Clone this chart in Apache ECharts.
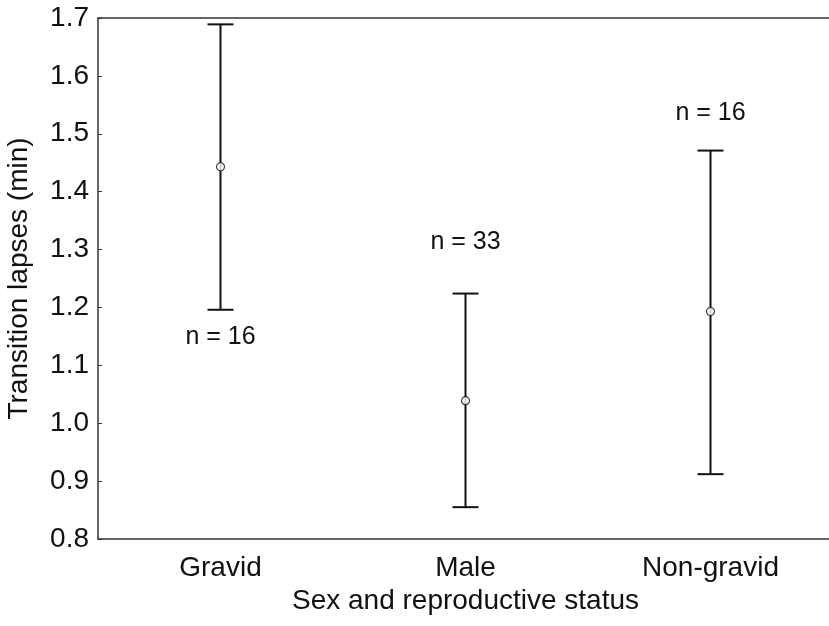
<!DOCTYPE html>
<html>
<head>
<meta charset="utf-8">
<script src="https://cdn.jsdelivr.net/npm/echarts@6/dist/echarts.min.js"></script>
<style>
  html, body { margin: 0; padding: 0; background: #fff; overflow: hidden; }
  #chart { width: 829px; height: 626px; }
</style>
</head>
<body>
<div id="chart"></div>
<script>
// Groups by sex and reproductive status
const categories = ['Gravid', 'Male', 'Non-gravid'];
// Mean transition lapse (min) with lower/upper interval bounds
const means = [1.443, 1.039, 1.193];
const lower = [1.196, 0.855, 0.912];
const upper = [1.689, 1.224, 1.471];
// Sample size annotations and where they sit on the value axis
const sampleLabels = ['n = 16', 'n = 33', 'n = 16'];
const sampleLabelY = [1.149, 1.312, 1.536];
const yTicks = [0.8, 0.9, 1.0, 1.1, 1.2, 1.3, 1.4, 1.5, 1.6, 1.7];

const FONT = '"Liberation Sans", Arial, sans-serif';
const INK = '#111';

const chart = echarts.init(document.getElementById('chart'), null, { renderer: 'canvas' });

const errorData = categories.map((c, i) => [i, lower[i], upper[i]]);
const meanData = categories.map((c, i) => [i, means[i]]);
const labelData = categories.map((c, i) => [i, sampleLabelY[i], sampleLabels[i]]);

chart.setOption({
  animation: false,
  backgroundColor: '#fff',
  // the plot frame continues a few pixels past the right edge of the canvas
  grid: { left: 98, top: 18, right: -4, bottom: 87, containLabel: false, outerBoundsMode: 'none' },
  xAxis: [{
    type: 'category',
    data: categories,
    boundaryGap: true,
    name: 'Sex and reproductive status',
    nameLocation: 'middle',
    nameGap: 48,
    nameTextStyle: { fontFamily: FONT, fontSize: 28, color: INK },
    axisLine: { lineStyle: { color: '#333', width: 1.5 } },
    axisTick: { inside: true, alignWithLabel: true, length: 4, lineStyle: { color: '#333' } },
    axisLabel: { fontFamily: FONT, fontSize: 28, color: INK, margin: 15 },
    splitLine: { show: false }
  }, {
    type: 'category',
    data: categories,
    position: 'top',
    boundaryGap: true,
    axisLine: { lineStyle: { color: '#333', width: 1.5 } },
    axisTick: { inside: true, alignWithLabel: true, length: 4, lineStyle: { color: '#333' } },
    axisLabel: { show: false },
    splitLine: { show: false }
  }],
  yAxis: [{
    type: 'value',
    min: 0.8,
    max: 1.7,
    interval: 0.1,
    name: 'Transition lapses (min)',
    nameLocation: 'middle',
    nameGap: 65,
    nameTextStyle: { fontFamily: FONT, fontSize: 28, color: INK },
    axisLine: { show: true, lineStyle: { color: '#333', width: 1.5 } },
    axisTick: { show: true, inside: true, length: 4, lineStyle: { color: '#333' } },
    axisLabel: {
      fontFamily: FONT, fontSize: 28, color: INK, margin: 9,
      formatter: v => {
        const t = yTicks.find(k => Math.abs(k - v) < 1e-9);
        return t === undefined ? '' : t.toFixed(1);
      }
    },
    splitLine: { show: false }
  }],
  series: [{
    // Interval whiskers with end caps
    type: 'custom',
    xAxisIndex: 0,
    yAxisIndex: 0,
    data: errorData,
    renderItem: (params, api) => {
      const x = api.value(0);
      const lo = api.coord([x, api.value(1)]);
      const hi = api.coord([x, api.value(2)]);
      const half = 13;
      const style = { stroke: INK, lineWidth: 2, fill: null };
      return {
        type: 'group',
        children: [
          { type: 'line', shape: { x1: hi[0], y1: hi[1], x2: lo[0], y2: lo[1] }, style },
          { type: 'line', shape: { x1: hi[0] - half, y1: hi[1], x2: hi[0] + half, y2: hi[1] }, style },
          { type: 'line', shape: { x1: lo[0] - half, y1: lo[1], x2: lo[0] + half, y2: lo[1] }, style }
        ]
      };
    },
    z: 2
  }, {
    // Group means
    type: 'scatter',
    xAxisIndex: 0,
    yAxisIndex: 0,
    data: meanData,
    symbol: 'circle',
    symbolSize: 8,
    itemStyle: { color: '#fff', borderColor: INK, borderWidth: 1.2 },
    z: 3
  }, {
    // Sample size annotations
    type: 'custom',
    xAxisIndex: 0,
    yAxisIndex: 0,
    data: labelData,
    renderItem: (params, api) => {
      const p = api.coord([api.value(0), api.value(1)]);
      return {
        type: 'text',
        x: p[0],
        y: p[1],
        style: {
          text: sampleLabels[params.dataIndex],
          fontFamily: FONT,
          fontSize: 25,
          fill: INK,
          align: 'center',
          verticalAlign: 'middle'
        }
      };
    },
    z: 4
  }]
});
</script>
</body>
</html>
